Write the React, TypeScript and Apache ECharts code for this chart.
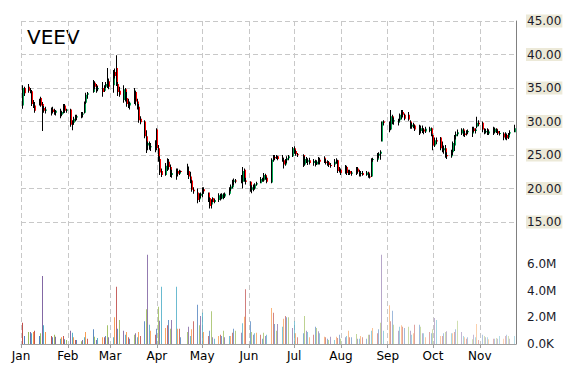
import React, { useEffect, useRef } from "react";
import * as echarts from "echarts";

const ticker = "VEEV";
const monthNames = ["Jan", "Feb", "Mar", "Apr", "May", "Jun", "Jul", "Aug", "Sep", "Oct", "Nov"];
// day-of-year (Jan 1 = 0) of each month start
const monthStartDays = [0, 31, 59, 90, 120, 151, 181, 212, 243, 273, 304];
const axisEndDay = 328;
const holidays = ["2014-01-01", "2014-01-20", "2014-02-17", "2014-04-18", "2014-05-26", "2014-07-04", "2014-09-01"];
const firstDate = "2014-01-01";
const lastDate = "2014-11-24";

const priceTicks = { min: 15, max: 45, step: 5 };
const volumeTicks = { min: 0, max: 7, step: 2 };

// each row: [open, high, low, close, volume (millions)]
const jan = [
  [32.4, 35.4, 31.9, 35.0, 1.6], [35.0, 35.2, 33.8, 34.2, 0.6], [35.2, 35.6, 34.3, 34.6, 0.9],
  [34.6, 35.0, 34.2, 34.4, 0.9], [34.5, 34.7, 32.3, 32.6, 0.8], [32.6, 33.2, 32.0, 32.4, 0.9],
  [32.4, 32.9, 31.3, 31.6, 1.0], [32.6, 33.4, 32.4, 33.0, 0.6], [33.5, 33.7, 32.2, 32.4, 0.8],
  [32.6, 32.9, 28.6, 32.2, 5.1], [32.0, 32.3, 31.3, 31.6, 1.4], [31.6, 32.2, 31.2, 31.8, 0.9],
  [31.6, 32.1, 30.9, 31.8, 0.6], [31.8, 32.2, 31.2, 31.4, 0.5], [31.4, 31.9, 31.0, 31.2, 0.7],
  [31.3, 31.7, 30.9, 31.6, 0.55], [31.5, 31.9, 30.5, 31.0, 0.4], [31.0, 31.6, 30.8, 31.4, 0.5],
  [31.3, 32.6, 31.2, 32.4, 0.6], [32.4, 32.6, 31.3, 31.6, 0.35], [31.6, 31.9, 31.3, 31.8, 0.3],
];
const feb = [
  [31.8, 31.9, 29.2, 29.5, 1.0], [29.5, 30.2, 28.7, 29.8, 0.85], [29.8, 30.7, 29.5, 30.4, 0.5],
  [30.4, 31.0, 30.0, 30.6, 0.3], [30.6, 31.0, 30.2, 30.8, 0.3], [30.8, 31.4, 30.5, 31.0, 0.2],
  [31.0, 31.4, 30.6, 31.2, 0.3], [31.3, 33.0, 31.2, 32.8, 0.5], [32.8, 34.3, 32.6, 34.0, 0.9],
  [34.0, 34.4, 33.4, 34.2, 0.4], [34.4, 36.2, 34.3, 35.8, 1.1], [35.8, 36.0, 34.8, 35.2, 0.55],
  [35.4, 35.6, 34.3, 34.6, 0.3], [34.8, 35.3, 34.5, 35.0, 0.45], [35.0, 35.9, 33.7, 34.4, 0.5],
  [34.6, 35.4, 34.4, 35.2, 0.5], [35.2, 35.9, 35.0, 35.6, 0.6], [35.8, 38.0, 35.0, 35.5, 1.4],
  [36.0, 36.4, 34.8, 35.2, 0.5],
];
const mar = [
  [35.4, 37.7, 34.3, 37.5, 0.5], [37.4, 37.9, 36.4, 36.8, 2.0], [38.0, 39.9, 35.3, 35.6, 4.3],
  [35.6, 35.9, 33.8, 34.4, 1.15], [34.6, 35.2, 33.7, 34.0, 1.8], [33.2, 35.4, 32.8, 34.8, 1.0],
  [34.8, 35.0, 33.0, 33.4, 0.7], [33.5, 34.4, 32.2, 32.6, 0.9], [32.6, 33.4, 32.0, 32.4, 0.5],
  [32.4, 33.0, 31.8, 32.8, 0.4], [33.0, 35.0, 32.6, 34.6, 0.7], [34.4, 34.6, 32.4, 33.0, 0.8],
  [33.0, 33.4, 31.8, 32.2, 0.5], [32.2, 32.6, 29.8, 30.2, 0.9], [30.4, 30.8, 29.6, 29.9, 0.6],
  [30.0, 30.2, 27.5, 27.8, 1.7], [27.8, 28.7, 25.3, 26.4, 2.6], [26.4, 27.0, 25.7, 26.8, 6.7],
  [26.6, 27.0, 25.8, 26.1, 1.45], [26.2, 26.8, 25.6, 26.3, 1.0], [26.4, 27.2, 25.4, 26.9, 0.7],
];
const apr = [
  [28.8, 29.0, 25.7, 26.0, 1.15], [26.0, 26.5, 24.0, 24.4, 2.8], [24.4, 24.8, 22.0, 22.4, 1.75],
  [22.6, 23.0, 21.7, 22.0, 4.3], [22.0, 23.8, 21.9, 23.4, 1.2], [23.4, 24.5, 22.6, 24.0, 1.4],
  [24.0, 24.4, 22.8, 23.2, 1.8], [23.2, 23.6, 21.7, 22.0, 1.15], [22.0, 22.8, 21.6, 22.3, 1.8],
  [22.3, 23.0, 21.3, 22.8, 4.3], [22.6, 23.0, 21.8, 22.2, 1.15], [22.2, 22.8, 22.0, 22.6, 1.15],
  [22.6, 22.7, 22.4, 22.5, 0.5], [23.2, 23.7, 22.0, 22.4, 0.9], [22.6, 23.3, 21.4, 21.8, 1.3],
  [21.8, 22.5, 20.8, 21.0, 0.6], [21.2, 21.3, 19.5, 19.8, 1.1], [19.8, 20.2, 19.2, 19.6, 1.7],
  [19.4, 20.0, 17.8, 18.3, 2.95], [18.4, 19.3, 18.0, 18.9, 1.4], [18.9, 19.4, 18.6, 19.2, 2.1],
];
const may = [
  [19.2, 20.2, 18.7, 19.9, 2.35], [19.9, 20.2, 19.2, 19.6, 0.9], [19.4, 19.4, 18.0, 18.6, 0.6],
  [18.6, 18.7, 17.0, 17.4, 1.0], [17.6, 18.4, 17.0, 17.9, 2.45], [18.6, 18.7, 17.9, 18.0, 0.5],
  [18.0, 18.5, 17.8, 18.3, 0.4], [18.3, 19.3, 18.0, 19.0, 0.6], [19.0, 19.2, 18.2, 18.5, 0.7],
  [18.5, 19.3, 18.4, 19.1, 0.6], [19.0, 19.3, 18.4, 18.8, 1.0], [18.8, 19.4, 18.6, 19.2, 0.5],
  [19.2, 20.2, 19.0, 19.9, 0.6], [19.9, 20.6, 19.6, 20.3, 0.6], [20.2, 21.3, 20.0, 21.0, 0.85],
  [21.0, 21.5, 20.5, 21.2, 1.15], [21.2, 21.4, 20.8, 21.1, 1.0], [21.6, 22.0, 20.8, 21.0, 0.85],
  [21.0, 23.2, 20.0, 22.6, 1.55], [22.8, 23.0, 21.0, 21.2, 2.05], [21.2, 21.6, 20.6, 21.0, 4.1],
];
const jun = [
  [21.0, 21.1, 19.5, 19.8, 1.7], [19.8, 20.5, 19.3, 20.2, 0.9], [20.2, 20.6, 19.6, 20.0, 0.7],
  [20.0, 20.8, 19.8, 20.6, 0.8], [20.6, 21.0, 20.4, 20.8, 0.85], [20.8, 21.7, 20.8, 21.4, 0.7],
  [21.4, 21.6, 21.0, 21.2, 0.4], [21.2, 22.3, 21.0, 22.0, 0.85], [22.0, 22.2, 21.3, 21.6, 0.6],
  [21.6, 21.8, 20.8, 21.0, 0.7], [20.9, 24.5, 20.8, 24.3, 2.7], [24.3, 25.0, 24.0, 24.7, 2.35],
  [24.7, 25.0, 24.2, 24.5, 1.5], [24.6, 25.0, 24.4, 24.8, 1.0], [24.8, 24.9, 24.2, 24.4, 1.5],
  [24.6, 25.0, 24.0, 24.2, 1.3], [24.2, 24.6, 23.0, 23.6, 1.9], [23.6, 24.4, 23.4, 24.2, 2.1],
  [24.2, 24.8, 23.8, 24.5, 2.0], [24.5, 25.0, 24.2, 24.8, 2.0], [24.8, 26.2, 24.7, 26.0, 1.2],
];
const jul = [
  [26.0, 26.3, 25.2, 25.6, 1.7], [25.6, 25.8, 24.9, 25.1, 0.8], [25.1, 25.3, 24.7, 25.0, 0.5],
  [25.0, 25.1, 23.2, 23.6, 0.8], [23.6, 24.8, 23.4, 24.4, 2.1], [24.4, 24.7, 23.8, 24.0, 1.0],
  [24.0, 24.5, 23.5, 24.2, 0.9], [24.2, 24.6, 23.6, 23.8, 0.5], [23.8, 24.4, 23.4, 24.1, 0.7],
  [24.1, 24.3, 23.3, 23.6, 1.3], [23.6, 24.2, 23.5, 24.0, 1.2], [24.0, 24.7, 23.6, 24.3, 0.95],
  [24.3, 24.6, 23.6, 24.0, 0.8], [24.6, 24.8, 23.8, 24.0, 0.55], [24.0, 24.4, 23.6, 23.8, 0.5],
  [23.8, 24.2, 23.4, 23.9, 0.4], [23.9, 24.1, 23.2, 23.5, 0.3], [23.5, 23.8, 23.1, 23.4, 0.55],
  [23.6, 24.4, 23.2, 24.0, 0.3], [24.0, 24.5, 23.7, 24.2, 0.55], [24.2, 24.3, 22.3, 22.6, 0.45],
  [22.8, 23.2, 22.4, 22.6, 0.7],
];
const aug = [
  [22.8, 23.0, 22.0, 22.3, 0.4], [22.4, 23.5, 22.2, 23.2, 0.5], [23.2, 23.4, 22.0, 22.3, 0.6],
  [22.3, 22.8, 22.0, 22.6, 1.0], [22.6, 22.8, 22.0, 22.2, 0.5], [22.2, 22.6, 21.9, 22.4, 0.5],
  [22.4, 23.2, 22.0, 23.0, 0.75], [23.0, 23.2, 22.2, 22.5, 0.4], [22.6, 22.8, 21.8, 22.2, 0.4],
  [22.2, 22.6, 21.8, 22.3, 0.6], [22.3, 22.6, 21.9, 22.0, 0.5], [22.0, 22.6, 21.9, 22.4, 0.4],
  [22.4, 22.5, 21.6, 21.8, 0.7], [21.8, 22.2, 21.5, 21.7, 0.7], [21.8, 24.5, 21.7, 24.3, 1.0],
  [24.3, 24.6, 24.0, 24.4, 1.2], [24.3, 25.3, 24.0, 24.9, 0.8], [24.9, 25.4, 24.5, 25.2, 1.1],
  [25.2, 25.7, 24.3, 25.5, 1.6], [27.0, 30.0, 27.0, 30.0, 6.7], [30.0, 30.2, 29.4, 29.8, 1.0],
];
const sep = [
  [29.8, 30.0, 28.4, 28.8, 2.9], [28.8, 31.7, 28.7, 30.8, 1.7], [30.8, 31.0, 29.6, 30.0, 2.5],
  [30.0, 30.6, 29.5, 30.2, 1.45], [29.8, 30.4, 29.4, 30.2, 1.0], [30.2, 31.2, 30.0, 31.0, 1.3],
  [31.0, 31.7, 30.3, 31.4, 1.4], [31.4, 31.7, 30.6, 31.0, 1.3], [31.0, 31.2, 30.2, 30.4, 1.2],
  [31.0, 31.4, 30.1, 30.3, 1.3], [30.0, 30.2, 28.9, 29.2, 1.0], [29.2, 29.8, 28.9, 29.5, 0.7],
  [29.6, 29.8, 29.0, 29.2, 0.8], [29.4, 29.5, 28.6, 28.8, 1.45], [29.0, 29.5, 28.0, 28.4, 1.45],
  [28.6, 29.4, 28.2, 29.0, 1.3], [29.0, 29.4, 28.3, 28.6, 0.8], [28.8, 29.0, 28.1, 28.5, 0.8],
  [28.5, 29.2, 28.3, 28.9, 0.5], [28.6, 29.2, 28.4, 29.0, 0.9], [29.0, 29.1, 27.8, 28.1, 0.8],
];
const oct = [
  [28.0, 28.1, 25.7, 26.4, 1.1], [26.4, 27.6, 26.2, 27.2, 1.95], [27.2, 27.6, 26.6, 27.0, 1.8],
  [27.6, 27.7, 25.7, 26.0, 0.6], [26.0, 27.0, 25.4, 25.7, 0.6], [25.7, 26.4, 25.2, 26.0, 0.8],
  [26.0, 26.5, 24.6, 25.0, 0.9], [25.0, 25.4, 24.4, 24.8, 0.95], [24.8, 25.8, 24.6, 25.4, 0.8],
  [25.4, 27.0, 25.0, 26.8, 0.8], [26.4, 28.0, 25.6, 27.8, 0.9], [27.8, 28.5, 27.3, 28.1, 1.1],
  [28.1, 28.8, 27.8, 28.4, 1.75], [28.2, 29.0, 28.0, 28.8, 0.9], [28.8, 29.0, 27.8, 28.2, 0.6],
  [28.2, 28.6, 27.7, 28.0, 0.5], [28.2, 28.7, 27.9, 28.4, 0.4], [28.4, 28.8, 28.1, 28.6, 0.5],
  [28.2, 29.2, 27.7, 29.0, 0.35], [29.0, 29.2, 28.4, 28.6, 0.7], [28.6, 29.0, 28.2, 28.8, 0.5],
  [29.2, 30.7, 29.0, 29.8, 1.5], [29.8, 30.2, 29.3, 29.6, 0.3],
];
const nov = [
  [29.8, 30.0, 28.4, 28.8, 0.7], [28.8, 29.0, 28.1, 28.4, 0.6], [28.4, 28.9, 28.2, 28.6, 0.5],
  [28.8, 29.0, 28.0, 28.2, 0.5], [28.2, 28.8, 28.0, 28.5, 0.35], [28.6, 29.2, 28.0, 28.4, 0.4],
  [28.4, 29.1, 28.2, 28.9, 0.4], [28.9, 29.0, 28.3, 28.6, 0.45], [28.6, 28.8, 28.0, 28.2, 0.4],
  [28.2, 28.6, 27.9, 28.3, 0.6], [28.2, 28.4, 27.2, 27.6, 0.4], [27.6, 28.4, 27.3, 28.0, 0.6],
  [28.0, 28.2, 27.2, 27.5, 0.7], [27.6, 28.3, 27.4, 28.1, 0.6], [28.2, 28.7, 28.0, 28.4, 0.4],
  [28.4, 29.5, 28.4, 29.0, 0.6],
];

const UP = "#00a651";
const DOWN = "#ff0000";
const VOL_COLORS = ["#C0504D", "#4F81BD", "#9BBB59", "#8064A2", "#4BACC6", "#F79646"];
const GRID_LINE = "#c8c8c8";
const FONT = "DejaVu Sans";

function tradingDays(): number[] {
  const out: number[] = [];
  const start = Date.parse(firstDate + "T00:00:00Z");
  const end = Date.parse(lastDate + "T00:00:00Z");
  for (let t = start; t <= end; t += 86400000) {
    const d = new Date(t);
    const wd = d.getUTCDay();
    const iso = d.toISOString().slice(0, 10);
    if (wd === 0 || wd === 6 || holidays.includes(iso)) continue;
    out.push(Math.round((t - start) / 86400000));
  }
  return out;
}

export default function App() {
  const ref = useRef<HTMLDivElement>(null);
  useEffect(() => {
    if (!ref.current) return;
    const chart = echarts.init(ref.current, undefined, { renderer: "svg" });
    const rows = [...jan, ...feb, ...mar, ...apr, ...may, ...jun, ...jul, ...aug, ...sep, ...oct, ...nov];
    const days = tradingDays();
    const n = Math.min(rows.length, days.length);
    const candleData: number[][] = [];
    const volData: number[][] = [];
    for (let i = 0; i < n; i++) {
      const r = rows[i];
      candleData.push([days[i], r[0], r[1], r[2], r[3]]);
      volData.push([days[i], r[4]]);
    }
    const labelStyle = { fontFamily: FONT, fontSize: 12, color: "#1a1a2a" };

    chart.setOption({
      animation: false,
      grid: [
        { left: 21, right: 54, top: 21, height: 201, outerBoundsMode: "none" },
        { left: 21, right: 54, top: 250.67, height: 93.33, outerBoundsMode: "none" },
        { left: 21, right: 54, top: 21, height: 323, outerBoundsMode: "none" },
      ],
      xAxis: [
        { gridIndex: 0, type: "value", min: 0, max: axisEndDay, show: false },
        { gridIndex: 1, type: "value", min: 0, max: axisEndDay, show: false },
        {
          gridIndex: 2, type: "value", min: 0, max: axisEndDay,
          axisLine: { show: true, onZero: false, lineStyle: { color: "#a0a0a0", width: 1 } },
          axisTick: { show: true, customValues: monthStartDays, length: 4, lineStyle: { color: "#a0a0a0" } },
          axisLabel: {
            ...labelStyle, color: "#000", margin: 6, customValues: monthStartDays,
            formatter: (v: number) => monthNames[monthStartDays.indexOf(Math.round(v))] ?? "",
          },
          splitLine: { show: true, lineStyle: { color: GRID_LINE, type: [5, 3], width: 1 } },
        },
      ],
      yAxis: [
        {
          gridIndex: 0, type: "value", position: "right",
          min: priceTicks.min, max: priceTicks.max, interval: priceTicks.step,
          axisLine: { show: false, onZero: false }, axisTick: { show: false },
          splitLine: { show: true, lineStyle: { color: GRID_LINE, type: [5, 3], width: 1 } },
          axisLabel: {
            ...labelStyle, margin: 10, backgroundColor: "#ECE9D8", padding: [1, 1, 0, 1],
            formatter: (v: number) => v.toFixed(2),
          },
        },
        {
          gridIndex: 1, type: "value", position: "right",
          min: volumeTicks.min, max: volumeTicks.max, interval: volumeTicks.step,
          axisLine: { show: false, onZero: false }, axisTick: { show: false }, splitLine: { show: false },
          axisLabel: {
            ...labelStyle, margin: 11, showMaxLabel: false,
            formatter: (v: number) => (v === 0 ? "0.0K" : v.toFixed(1) + "M"),
          },
        },
        {
          gridIndex: 2, type: "value", position: "right", min: 0, max: 1,
          axisLine: { show: true, onZero: false, lineStyle: { color: "#808080", width: 1 } },
          axisTick: { show: false }, axisLabel: { show: false }, splitLine: { show: false },
        },
      ],
      graphic: [
        {
          type: "text", left: 27, top: 27,
          style: { text: ticker, fontFamily: FONT, fontSize: 20, fill: "#000" },
        },
      ],
      series: [
        {
          type: "custom", xAxisIndex: 0, yAxisIndex: 0, clip: true,
          encode: { x: 0, y: [1, 2, 3, 4] },
          data: candleData,
          renderItem: (_p: any, api: any) => {
            const x = api.value(0);
            const o = api.value(1), h = api.value(2), l = api.value(3), c = api.value(4);
            const pH = api.coord([x, h]);
            const pL = api.coord([x, l]);
            const pO = api.coord([x, o]);
            const pC = api.coord([x, c]);
            const px = Math.floor(pH[0]);
            const top = Math.min(pO[1], pC[1]);
            const bh = Math.max(1, Math.abs(pO[1] - pC[1]));
            return {
              type: "group",
              children: [
                { type: "rect", shape: { x: px, y: pH[1], width: 1, height: Math.max(1, pL[1] - pH[1]) }, style: { fill: "#000" } },
                { type: "rect", shape: { x: px + 1, y: top, width: 1, height: bh }, style: { fill: c >= o ? UP : DOWN } },
              ],
            };
          },
        },
        {
          type: "custom", xAxisIndex: 1, yAxisIndex: 1, clip: true,
          encode: { x: 0, y: 1 },
          data: volData,
          renderItem: (p: any, api: any) => {
            const x = api.value(0);
            const pt = api.coord([x, api.value(1)]);
            const base = api.coord([x, 0]);
            const i = p.dataIndex;
            const opacity = 1 - 0.6 * (i / n);
            return {
              type: "rect",
              shape: { x: Math.floor(pt[0]), y: pt[1], width: 1, height: base[1] - pt[1] },
              style: { fill: VOL_COLORS[i % VOL_COLORS.length], opacity },
            };
          },
        },
      ],
    });
    return () => chart.dispose();
  }, []);
  return <div ref={ref} style={{ position: "fixed", left: 0, top: 0, width: 570, height: 370, background: "#fff" }} />;
}
